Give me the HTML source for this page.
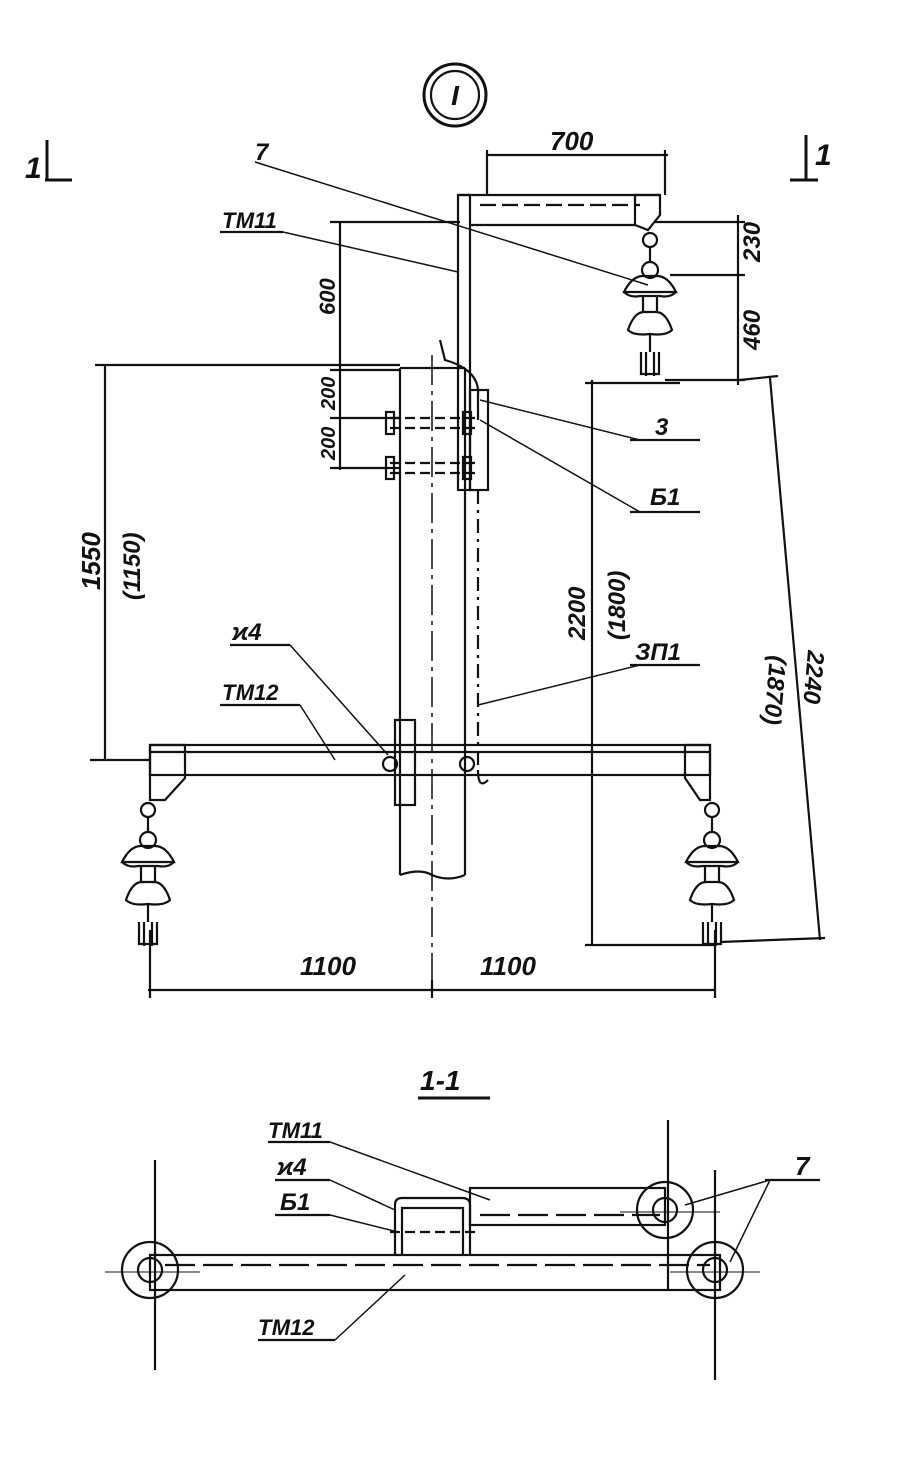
<!DOCTYPE html>
<html><head><meta charset="utf-8"><style>
html,body{margin:0;padding:0;background:#fff;}
svg{display:block}
text{font-family:"Liberation Sans",sans-serif;font-style:italic;font-weight:bold;fill:#111}
</style></head><body>
<svg width="900" height="1460" viewBox="0 0 900 1460" xmlns="http://www.w3.org/2000/svg" stroke="#111" fill="none" stroke-width="2.2">
<defs>
<g id="ins">
<circle cx="0" cy="-50" r="7"/>
<line x1="0" y1="-43" x2="0" y2="-28"/>
<circle cx="0" cy="-20" r="8"/>
<path d="M-26 2 Q-18 -14 -7 -14 L7 -14 Q18 -14 26 2 L-26 2 Z"/>
<path d="M-26 2 Q-20 8 -10 6 L10 6 Q20 8 26 2"/>
<path d="M-7 6 L-7 22 M7 6 L7 22"/>
<path d="M-22 40 Q-16 22 -6 22 L6 22 Q16 22 22 40 Q16 46 0 44 Q-16 46 -22 40 Z"/>
<line x1="0" y1="44" x2="0" y2="62"/>
<path d="M-9 62 L-9 84 L9 84 L9 62"/><line x1="-4" y1="62" x2="-4" y2="86"/><line x1="4" y1="62" x2="4" y2="86"/>
</g>
</defs>
<!-- circle I -->
<circle cx="455" cy="95" r="31" stroke-width="3"/>
<circle cx="455" cy="95" r="24"/>
<text x="455" y="105" font-size="28" text-anchor="middle" stroke="none">I</text>
<!-- section marks -->
<text x="25" y="178" font-size="30" stroke="none">1</text>
<line x1="45" y1="180" x2="72" y2="180" stroke-width="3"/><line x1="47" y1="140" x2="47" y2="180" stroke-width="3"/>
<text x="815" y="165" font-size="30" stroke="none">1</text>
<line x1="790" y1="180" x2="818" y2="180" stroke-width="3"/><line x1="806" y1="135" x2="806" y2="180" stroke-width="3"/>
<!-- 700 dim -->
<line x1="487" y1="155" x2="668" y2="155"/>
<line x1="487" y1="150" x2="487" y2="195"/><line x1="665" y1="150" x2="665" y2="195"/>
<text x="550" y="150" font-size="26" stroke="none">700</text>
<!-- bracket -->
<rect x="458" y="195" width="12" height="295"/>
<line x1="458" y1="195" x2="660" y2="195"/><line x1="470" y1="225" x2="635" y2="225"/>
<line x1="480" y1="205" x2="640" y2="205" stroke-dasharray="16 6"/>
<path d="M635 195 L660 195 L660 215 L648 230 L635 225 Z"/>
<rect x="470" y="390" width="18" height="100"/>
<use href="#ins" x="650" y="290"/>
<use href="#ins" x="148" y="860"/>
<use href="#ins" x="712" y="860"/>
<!-- dims 230 / 460 -->
<line x1="655" y1="222" x2="745" y2="222"/><line x1="670" y1="275" x2="745" y2="275"/>
<line x1="738" y1="215" x2="738" y2="385"/><line x1="665" y1="380" x2="745" y2="380"/>
<text transform="translate(760,262) rotate(-90)" font-size="24" stroke="none">230</text>
<text transform="translate(760,350) rotate(-90)" font-size="24" stroke="none">460</text>
<!-- dims left 600/200/200 -->
<line x1="340" y1="222" x2="340" y2="470"/>
<line x1="330" y1="222" x2="460" y2="222"/><line x1="330" y1="370" x2="400" y2="370"/>
<line x1="330" y1="418" x2="400" y2="418"/><line x1="330" y1="468" x2="400" y2="468"/>
<text transform="translate(335,315) rotate(-90)" font-size="22" stroke="none">600</text>
<text transform="translate(335,410) rotate(-90)" font-size="20" stroke="none">200</text>
<text transform="translate(335,460) rotate(-90)" font-size="20" stroke="none">200</text>
<!-- pole -->
<path d="M400 368 L465 368 M400 368 L400 875 M465 368 L465 875 M400 875 Q420 868 432 875 Q448 882 465 875"/>
<line x1="432" y1="355" x2="432" y2="990" stroke-width="1.5" stroke-dasharray="30 6 4 6"/>
<path d="M440 340 L445 360 Q480 370 478 395 L478 420"/>
<!-- bolts -->
<line x1="390" y1="418" x2="480" y2="418" stroke-dasharray="10 5"/><line x1="390" y1="428" x2="480" y2="428" stroke-dasharray="10 5"/>
<line x1="390" y1="463" x2="480" y2="463" stroke-dasharray="10 5"/><line x1="390" y1="473" x2="480" y2="473" stroke-dasharray="10 5"/>
<rect x="386" y="412" width="8" height="22"/><rect x="386" y="457" width="8" height="22"/>
<rect x="463" y="412" width="8" height="22"/><rect x="463" y="457" width="8" height="22"/>
<!-- ground wire -->
<line x1="478" y1="490" x2="478" y2="770" stroke-dasharray="14 6 3 6"/>
<path d="M478 770 Q478 790 488 780"/>
<!-- crossarm -->
<rect x="150" y="745" width="560" height="30"/>
<line x1="150" y1="752" x2="710" y2="752"/>
<path d="M150 745 L185 745 L185 778 L165 800 L150 800 Z"/>
<path d="M710 745 L685 745 L685 778 L700 800 L710 800 Z"/>
<rect x="395" y="720" width="20" height="85"/>
<circle cx="390" cy="764" r="7"/><circle cx="467" cy="764" r="7"/>
<!-- 1550 -->
<line x1="105" y1="365" x2="105" y2="760"/>
<line x1="95" y1="365" x2="400" y2="365"/><line x1="90" y1="760" x2="150" y2="760"/>
<text transform="translate(100,590) rotate(-90)" font-size="26" stroke="none">1550</text>
<text transform="translate(140,600) rotate(-90)" font-size="24" stroke="none">(1150)</text>
<!-- 2200 -->
<line x1="592" y1="380" x2="592" y2="945"/>
<line x1="585" y1="383" x2="680" y2="383"/><line x1="585" y1="945" x2="715" y2="945"/>
<text transform="translate(585,640) rotate(-90)" font-size="24" stroke="none">2200</text>
<text transform="translate(625,640) rotate(-90)" font-size="24" stroke="none">(1800)</text>
<!-- 2240 -->
<line x1="770" y1="378" x2="820" y2="940"/>
<line x1="740" y1="380" x2="778" y2="376"/><line x1="720" y1="942" x2="825" y2="938"/>
<text transform="translate(808,650) rotate(95)" font-size="24" stroke="none">2240</text>
<text transform="translate(770,655) rotate(95)" font-size="24" stroke="none">(1870)</text>
<!-- bottom 1100 -->
<line x1="148" y1="990" x2="715" y2="990"/>
<line x1="150" y1="930" x2="150" y2="998"/><line x1="715" y1="930" x2="715" y2="998"/>
<line x1="432" y1="980" x2="432" y2="998"/>
<text x="300" y="975" font-size="26" stroke="none">1100</text>
<text x="480" y="975" font-size="26" stroke="none">1100</text>
<!-- leaders -->
<line x1="255" y1="162" x2="648" y2="285" stroke-width="1.5"/>
<text x="255" y="160" font-size="24" stroke="none">7</text>
<line x1="220" y1="232" x2="283" y2="232"/><line x1="283" y1="232" x2="458" y2="272" stroke-width="1.5"/>
<text x="222" y="228" font-size="22" stroke="none">ТМ11</text>
<line x1="480" y1="400" x2="640" y2="440" stroke-width="1.5"/><line x1="630" y1="440" x2="700" y2="440"/>
<text x="655" y="435" font-size="24" stroke="none">3</text>
<line x1="480" y1="420" x2="640" y2="512" stroke-width="1.5"/><line x1="630" y1="512" x2="700" y2="512"/>
<text x="650" y="505" font-size="24" stroke="none">Б1</text>
<line x1="478" y1="705" x2="640" y2="665" stroke-width="1.5"/><line x1="630" y1="665" x2="700" y2="665"/>
<text x="635" y="660" font-size="24" stroke="none">ЗП1</text>
<line x1="230" y1="645" x2="290" y2="645"/><line x1="290" y1="645" x2="388" y2="755" stroke-width="1.5"/>
<text x="232" y="640" font-size="24" stroke="none">ϰ4</text>
<line x1="220" y1="705" x2="300" y2="705"/><line x1="300" y1="705" x2="335" y2="760" stroke-width="1.5"/>
<text x="222" y="700" font-size="22" stroke="none">ТМ12</text>
<!-- section 1-1 -->
<text x="420" y="1090" font-size="28" stroke="none">1-1</text>
<line x1="418" y1="1098" x2="490" y2="1098" stroke-width="3"/>
<rect x="150" y="1255" width="570" height="35"/>
<line x1="165" y1="1265" x2="710" y2="1265" stroke-dasharray="30 8"/>
<rect x="470" y="1188" width="195" height="37"/>
<line x1="480" y1="1215" x2="660" y2="1215" stroke-dasharray="30 8"/>
<path d="M395 1255 L395 1205 Q395 1198 402 1198 L462 1198 Q470 1198 470 1205 L470 1255"/>
<path d="M402 1255 L402 1208 L463 1208 L463 1255"/>
<line x1="390" y1="1232" x2="480" y2="1232" stroke-dasharray="10 5"/>
<circle cx="150" cy="1270" r="28"/><circle cx="150" cy="1270" r="12"/>
<circle cx="665" cy="1210" r="28"/><circle cx="665" cy="1210" r="12"/>
<circle cx="715" cy="1270" r="28"/><circle cx="715" cy="1270" r="12"/>
<line x1="155" y1="1160" x2="155" y2="1370"/><line x1="668" y1="1120" x2="668" y2="1290"/><line x1="715" y1="1170" x2="715" y2="1380"/>
<line x1="105" y1="1272" x2="200" y2="1272" stroke-width="1"/>
<line x1="620" y1="1212" x2="720" y2="1212" stroke-width="1"/>
<line x1="670" y1="1272" x2="760" y2="1272" stroke-width="1"/>
<!-- section leaders -->
<line x1="268" y1="1142" x2="330" y2="1142"/><line x1="330" y1="1142" x2="490" y2="1200" stroke-width="1.5"/>
<text x="268" y="1138" font-size="22" stroke="none">ТМ11</text>
<line x1="275" y1="1180" x2="330" y2="1180"/><line x1="330" y1="1180" x2="395" y2="1210" stroke-width="1.5"/>
<text x="277" y="1175" font-size="24" stroke="none">ϰ4</text>
<line x1="275" y1="1215" x2="330" y2="1215"/><line x1="330" y1="1215" x2="398" y2="1232" stroke-width="1.5"/>
<text x="280" y="1210" font-size="24" stroke="none">Б1</text>
<line x1="258" y1="1340" x2="335" y2="1340"/><line x1="335" y1="1340" x2="405" y2="1275" stroke-width="1.5"/>
<text x="258" y="1335" font-size="22" stroke="none">ТМ12</text>
<line x1="765" y1="1180" x2="820" y2="1180"/>
<line x1="770" y1="1180" x2="685" y2="1205" stroke-width="1.5"/><line x1="770" y1="1180" x2="730" y2="1262" stroke-width="1.5"/>
<text x="795" y="1175" font-size="26" stroke="none">7</text>
</svg>
</body></html>
